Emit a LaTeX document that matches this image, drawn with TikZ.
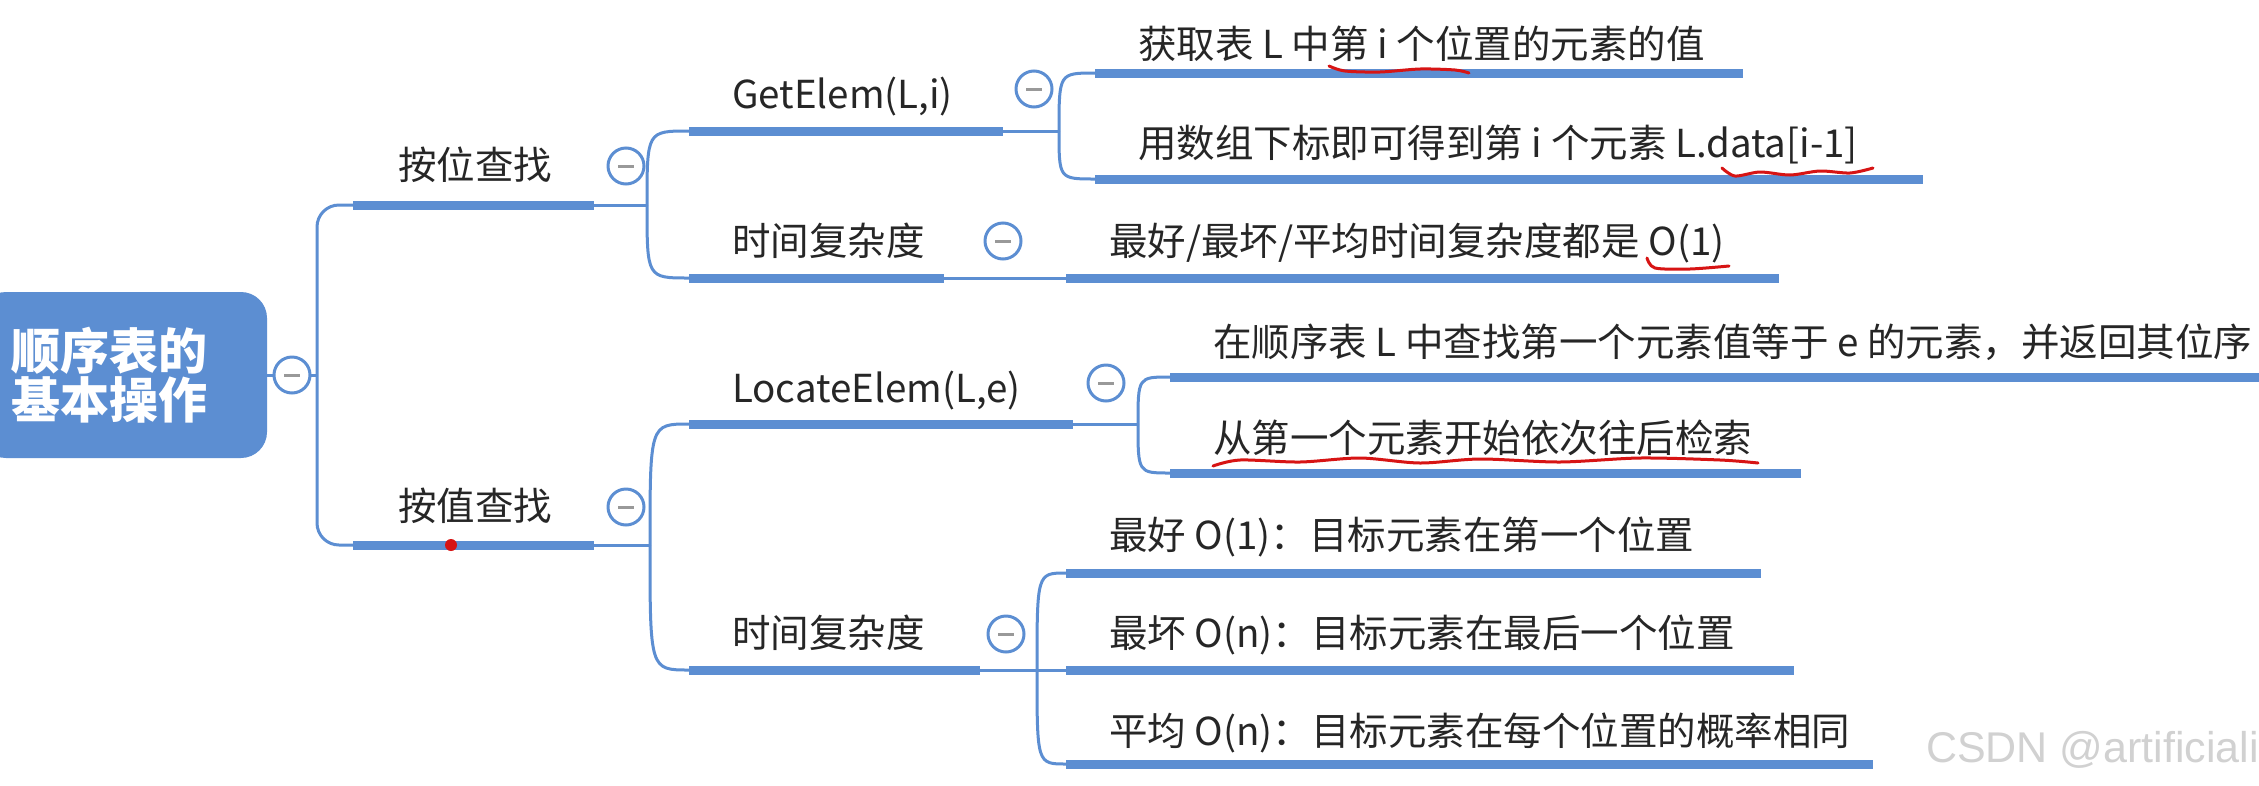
\documentclass[tikz,border=0pt]{standalone}
\usepackage{fontspec}
\setmainfont{Noto Sans CJK SC}
\newfontfamily\wmfont{Liberation Sans}
\definecolor{mmblue}{RGB}{92,142,210}
\definecolor{markred}{RGB}{215,20,20}
\begin{document}
\begin{tikzpicture}[x=1pt,y=-1pt,
  bar/.style={line width=9pt, draw=mmblue},
  link/.style={line width=3pt, draw=mmblue},
  txt/.style={anchor=base west, inner sep=0pt, text=black!85, font=\fontsize{38.5}{42}\selectfont},
  fold/.style={circle, draw=mmblue, line width=3pt, fill=white, minimum size=36pt, inner sep=0pt,
    path picture={\draw[black!40, line width=3pt] ([xshift=-8pt]path picture bounding box.center) -- ([xshift=8pt]path picture bounding box.center);}},
  redmark/.style={draw=markred, line width=3pt, line cap=round}]
\useasboundingbox (0,0) rectangle (2259,785);
\fill[white] (0,0) rectangle (2259,785);

% root
\node[fill=mmblue, rounded corners=26pt, minimum width=287pt, minimum height=166pt, inner sep=0pt] (root) at (123.5,375) {};
\node[anchor=west, inner sep=0pt, align=left, text=white, font=\fontsize{49}{49}\selectfont\bfseries] (roottxt) at (11,375) {顺序表的\\基本操作};

% coordinates
\coordinate (trunk) at (317,375);
\coordinate (b1L) at (353,205); \coordinate (b1R) at (594,205);
\coordinate (b2L) at (353,545); \coordinate (b2R) at (594,545);
\coordinate (s1) at (647,205); \coordinate (s2) at (650,545);
\coordinate (gL) at (689,131); \coordinate (gR) at (1003,131);
\coordinate (t1L) at (689,278); \coordinate (t1R) at (944,278);
\coordinate (lL) at (689,424); \coordinate (lR) at (1073,424);
\coordinate (t2L) at (689,670); \coordinate (t2R) at (980,670);
\coordinate (sg) at (1059,131); \coordinate (sl) at (1138,424); \coordinate (st2) at (1037,670);
\coordinate (c1L) at (1095,73); \coordinate (c1R) at (1743,73);
\coordinate (c2L) at (1095,179); \coordinate (c2R) at (1923,179);
\coordinate (t1cL) at (1066,278); \coordinate (t1cR) at (1779,278);
\coordinate (l1L) at (1170,377); \coordinate (l1R) at (2259,377);
\coordinate (l2L) at (1170,473); \coordinate (l2R) at (1801,473);
\coordinate (aL) at (1066,573); \coordinate (aR) at (1761,573);
\coordinate (bL) at (1066,670); \coordinate (bR) at (1794,670);
\coordinate (cL) at (1066,764); \coordinate (cR) at (1873,764);

% connectors
\draw[link] (root.east) -- (trunk);
\draw[link, rounded corners=22pt] (b1L) -| (trunk) |- (b2L);
\draw[link] (b1R) -- (s1);
\draw[link] (s1) .. controls (s1 |- gL) .. (gL);
\draw[link] (s1) .. controls (s1 |- t1L) .. (t1L);
\draw[link] (b2R) -- (s2);
\draw[link] (s2) .. controls (s2 |- lL) .. (lL);
\draw[link] (s2) .. controls (s2 |- t2L) .. (t2L);
\draw[link] (gR) -- (sg);
\draw[link] (sg) .. controls (sg |- c1L) .. (c1L);
\draw[link] (sg) .. controls (sg |- c2L) .. (c2L);
\draw[link] (t1R) -- (t1cL);
\draw[link] (lR) -- (sl);
\draw[link] (sl) .. controls (sl |- l1L) .. (l1L);
\draw[link] (sl) .. controls (sl |- l2L) .. (l2L);
\draw[link] (t2R) -- (st2);
\draw[link] (st2) .. controls (st2 |- aL) .. (aL);
\draw[link] (st2) -- (bL);
\draw[link] (st2) .. controls (st2 |- cL) .. (cL);

% bars
\foreach \p in {b1,b2,g,t1,l,t2,c1,c2,t1c,l1,l2,a,b,c}{\draw[bar] (\p L) -- (\p R);}

% folds
\node[fold] (f0) at (292,375) {};
\node[fold] (f1) at (626,166) {};
\node[fold] (f2) at (626,507) {};
\node[fold] (f3) at (1034,89) {};
\node[fold] (f4) at (1003,241) {};
\node[fold] (f5) at (1106,383) {};
\node[fold] (f6) at (1006,634) {};

% texts
\node[txt] (n1) at (398,179) {按位查找};
\node[txt] (n2) at (398,520) {按值查找};
\node[txt] (n3) at (732,108) {GetElem(L,i)};
\node[txt] (n4) at (732,255) {时间复杂度};
\node[txt] (n5) at (732,402) {LocateElem(L,e)};
\node[txt] (n6) at (732,647) {时间复杂度};
\node[txt] (n7) at (1138,58) {获取表 L 中第 i 个位置的元素的值};
\node[txt] (n8) at (1138,157) {用数组下标即可得到第 i 个元素 L.data[i-1]};
\node[txt] (n9) at (1109,255) {最好/最坏/平均时间复杂度都是 O(1)};
\node[txt] (n10) at (1213,356) {在顺序表 L 中查找第一个元素值等于 e 的元素，并返回其位序};
\node[txt] (n11) at (1213,452) {从第一个元素开始依次往后检索};
\node[txt] (n12) at (1109,549) {最好 O(1)：目标元素在第一个位置};
\node[txt] (n13) at (1109,647) {最坏 O(n)：目标元素在最后一个位置};
\node[txt] (n14) at (1109,745) {平均 O(n)：目标元素在每个位置的概率相同};

% red annotations
\draw[redmark] plot[smooth] coordinates {(1329,66) (1345,71) (1380,72) (1420,69) (1455,70) (1469,73)};
\draw[redmark] plot[smooth] coordinates {(1722,168) (1735,176) (1760,172) (1790,175) (1820,171) (1850,173) (1873,168)};
\draw[redmark] plot[smooth] coordinates {(1647,258) (1655,268) (1690,269) (1729,266)};
\draw[redmark] plot[smooth] coordinates {(1213,466) (1240,460) (1300,462) (1360,458) (1420,463) (1480,459) (1560,462) (1640,458) (1720,460) (1758,463)};
\fill[markred] (451,545) circle (6pt);

% watermark
\node[anchor=base east, inner sep=0pt, text=black!18, font=\wmfont\fontsize{43}{45}\selectfont] (wm) at (2259,762) {CSDN @artificiali};
\end{tikzpicture}
\end{document}
